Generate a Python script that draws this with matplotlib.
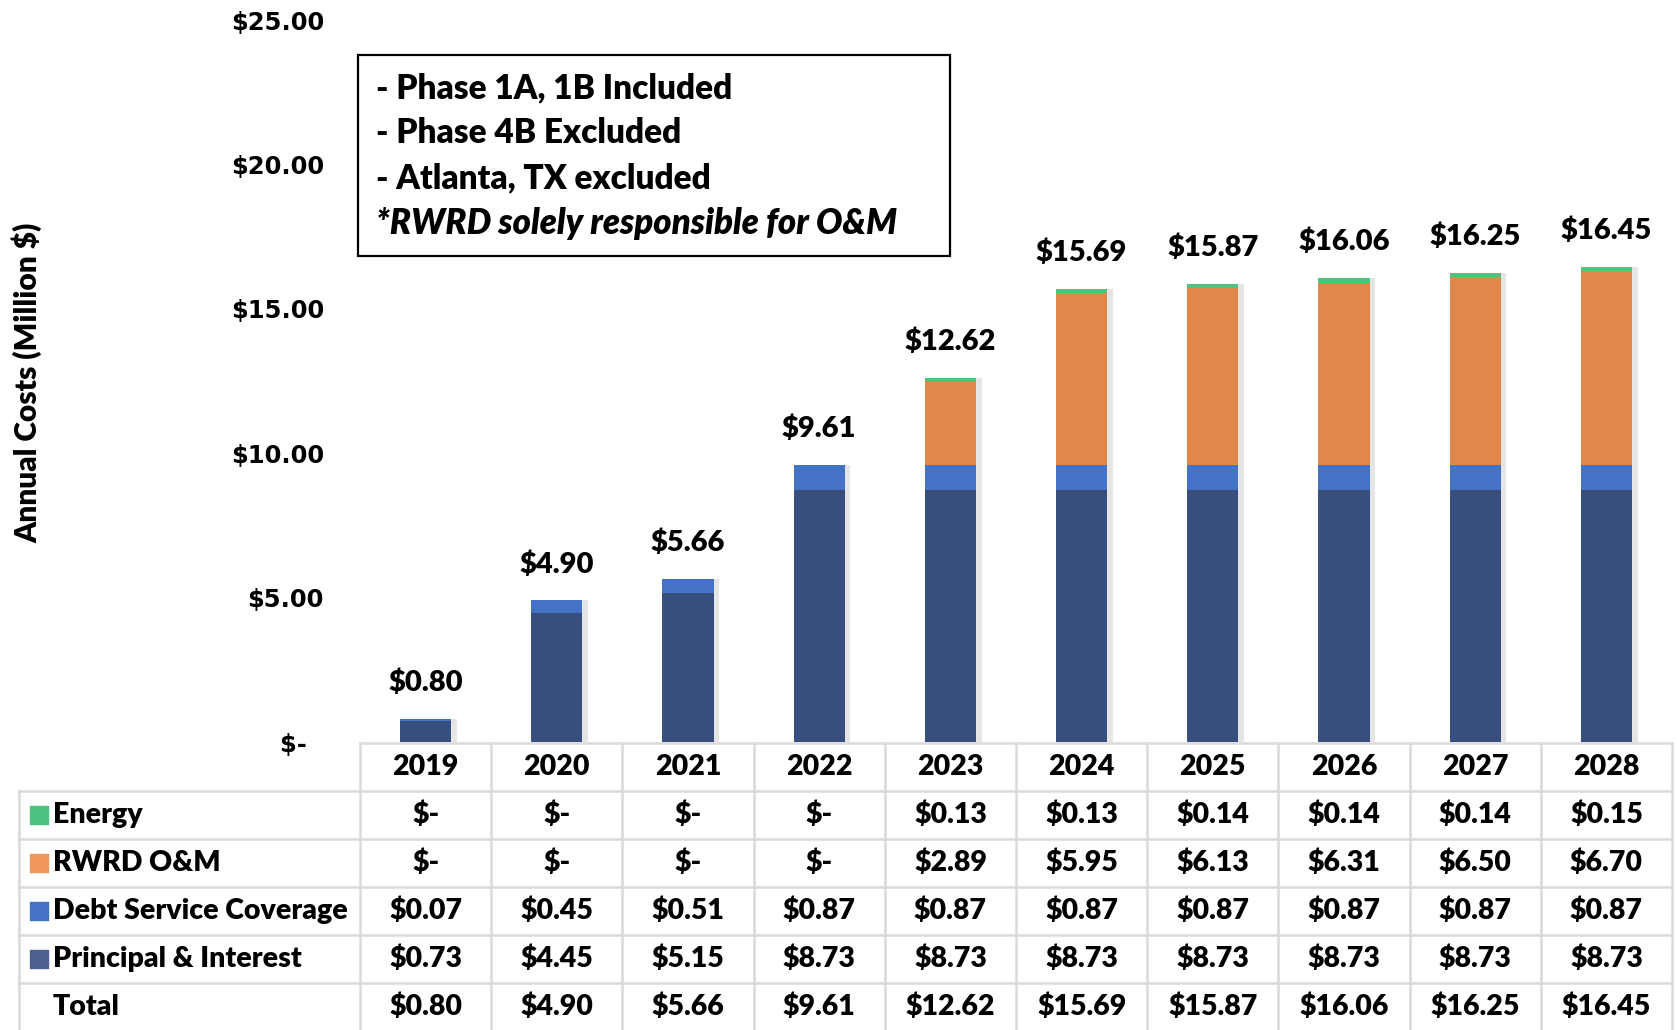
import matplotlib
matplotlib.use("Agg")
import matplotlib.pyplot as plt
import matplotlib.patheffects as pe
from matplotlib.patches import Rectangle

# Data (Million $)
years = ["2019", "2020", "2021", "2022", "2023", "2024", "2025", "2026", "2027", "2028"]
principal_interest = [0.73, 4.45, 5.15, 8.73, 8.73, 8.73, 8.73, 8.73, 8.73, 8.73]
debt_service = [0.07, 0.45, 0.51, 0.87, 0.87, 0.87, 0.87, 0.87, 0.87, 0.87]
rwrd_om = [0, 0, 0, 0, 2.89, 5.95, 6.13, 6.31, 6.50, 6.70]
energy = [0, 0, 0, 0, 0.13, 0.13, 0.14, 0.14, 0.14, 0.15]
totals = [0.80, 4.90, 5.66, 9.61, 12.62, 15.69, 15.87, 16.06, 16.25, 16.45]
y_ticks = [0, 5, 10, 15, 20, 25]
y_tick_labels = ["$-  ", "$5.00", "$10.00", "$15.00", "$20.00", "$25.00"]
notes = ["- Phase 1A, 1B Included", "- Phase 4B Excluded", "- Atlanta, TX excluded"]
note_italic = "*RWRD solely responsible for O&M"

C_PI = "#384F7D"
C_DS = "#4472C4"
C_OM = "#E0874B"
C_EN = "#4CC47F"
LEG_PI = "#4E6190"
LEG_OM = "#F0985B"

W, H = 1677, 1030
FONT = "Lato"
WT = 800
TS = 20.5

fig = plt.figure(figsize=(W / 100, H / 100), dpi=100)

# Bars
ax = fig.add_axes([360 / W, 1 - 742 / H, (1672 - 360) / W, (742 - 20) / H])
x = list(range(len(years)))
bw = 0.39
shadow = [pe.SimplePatchShadow(offset=(4, 0), shadow_rgbFace="#999999", alpha=0.25), pe.Normal()]
b1 = ax.bar(x, principal_interest, bw, color=C_PI, zorder=3)
bot = list(principal_interest)
b2 = ax.bar(x, debt_service, bw, bottom=bot, color=C_DS, zorder=3)
bot = [a + b for a, b in zip(bot, debt_service)]
b3 = ax.bar(x, rwrd_om, bw, bottom=bot, color=C_OM, zorder=3)
bot = [a + b for a, b in zip(bot, rwrd_om)]
b4 = ax.bar(x, energy, bw, bottom=bot, color=C_EN, zorder=3)
for cont in (b1, b2, b3, b4):
    for p in cont:
        p.set_path_effects(shadow)

for i, t in enumerate(totals):
    ax.annotate(f"${t:.2f}", (i, t), xytext=(0, 26), textcoords="offset points",
                ha="center", va="center", fontsize=21, fontweight=WT, family=FONT)

ax.set_xlim(-0.5, 9.5)
ax.set_ylim(0, 25)
ax.set_yticks(y_ticks)
ax.set_yticklabels(y_tick_labels, fontsize=17.5, fontweight="bold", family="DejaVu Sans")
ax.tick_params(axis="y", length=0, pad=26)
ax.set_xticks([])
for s in ax.spines.values():
    s.set_visible(False)

fig.text(27 / W, 1 - 383 / H, "Annual Costs (Million $)", rotation=90, ha="center", va="center",
         fontsize=21.5, fontweight=WT, family=FONT)

# Notes box
fig.patches.append(Rectangle((358 / W, 1 - 256 / H), (950 - 358) / W, (256 - 55) / H,
                             transform=fig.transFigure, fill=False, edgecolor="black", linewidth=1.6))
for k, line in enumerate(notes):
    fig.text(376 / W, 1 - (88 + 45 * k) / H, line, ha="left", va="center",
             fontsize=24, fontweight=WT, family=FONT)
fig.text(376 / W, 1 - 224 / H, note_italic, ha="left", va="center",
         fontsize=25, fontweight=WT, style="italic", family=FONT)

# Data table
tax = fig.add_axes([19 / W, 0, (1672 - 19) / W, (1030 - 743) / H])
left = -0.5 - 341 / 131.2
tax.set_xlim(left, 9.5)
tax.set_ylim(287 / 48, 0)
tax.axis("off")
gc = "#D9D9D9"
tax.plot([-0.5, 9.5], [0, 0], color=gc, lw=1.8, clip_on=False)
for r in range(1, 6):
    tax.plot([left, 9.5], [r, r], color=gc, lw=1.8, clip_on=False)
for k in range(11):
    tax.plot([-0.5 + k, -0.5 + k], [0, 6], color=gc, lw=1.8, clip_on=False)
tax.plot([left, left], [1, 6], color=gc, lw=1.8, clip_on=False)

for i, yr in enumerate(years):
    tax.text(i, 0.5, yr, ha="center", va="center", fontsize=TS, fontweight=WT, family=FONT)

rows = [("Energy", C_EN, energy),
        ("RWRD O&M", LEG_OM, rwrd_om),
        ("Debt Service Coverage", C_DS, debt_service),
        ("Principal & Interest", LEG_PI, principal_interest),
        ("Total", None, totals)]


def money(v):
    return "$-" if v == 0 else f"${v:.2f}"


for r, (name, col, vals) in enumerate(rows, start=1):
    yc = r + 0.5
    if col is not None:
        tax.scatter([left + 19.5 / 131.2], [yc], marker="s", s=150, color=col, clip_on=False)
    tax.text(left + 34 / 131.2, yc, name, ha="left", va="center",
             fontsize=TS, fontweight=WT, family=FONT)
    for i, v in enumerate(vals):
        tax.text(i, yc, money(v), ha="center", va="center", fontsize=TS, fontweight=WT, family=FONT)

fig.savefig("out.png", dpi=100, facecolor="white")
